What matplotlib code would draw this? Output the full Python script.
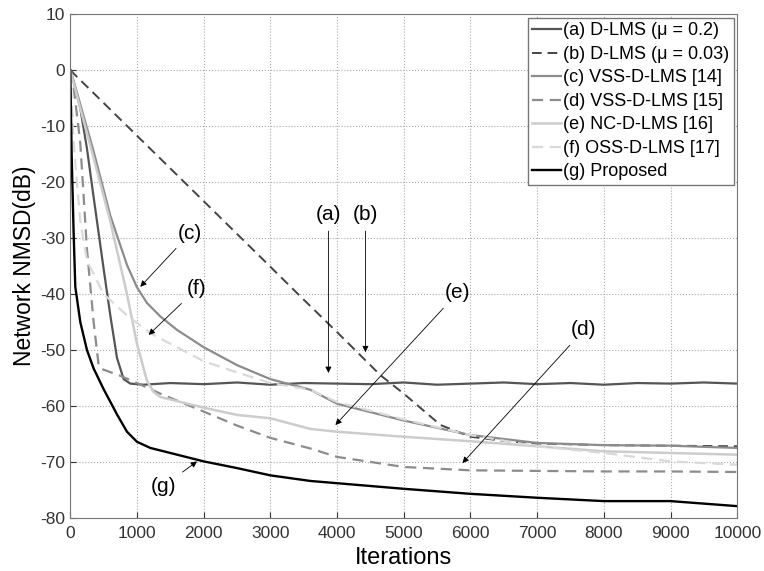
import matplotlib
matplotlib.use("Agg")
import matplotlib.pyplot as plt
import numpy as np

plt.rcParams['font.family'] = ['Liberation Sans', 'DejaVu Sans']
plt.rcParams['axes.unicode_minus'] = False

# values (iterations, dB)
x_a = [0, 50, 150, 250, 350, 500, 600, 700, 800, 900, 1100, 1500, 2000, 2500, 3000, 3500, 4000,
       4500, 5000, 5500, 6000, 6500, 7000, 7500, 8000, 8500, 9000, 9500, 10000]
y_a = [0, -2, -6.8, -14, -22.7, -35.5, -43.8, -51.4, -55.2, -56.0, -56.2, -55.9, -56.1, -55.8,
       -56.2, -55.9, -56.0, -56.1, -55.8, -56.2, -56.0, -55.8, -56.1, -55.9, -56.2, -55.9, -56.0, -55.8, -56.0]

x_b = [0, 1000, 2000, 2700, 3500, 4000, 4650, 5000, 5550, 6000, 6550, 7000, 8000, 9000, 10000]
y_b = [0, -11.7, -23.4, -31.6, -41, -46.8, -54.5, -57.8, -63.4, -65.5, -66.3, -66.7, -67.0, -67.1, -67.2]

x_c = [0, 100, 350, 600, 850, 1000, 1150, 1350, 1600, 2000, 2500, 3000, 3600, 4000, 5000, 6000,
       7000, 8000, 9000, 10000]
y_c = [0, -4, -14.5, -26, -34.8, -38.8, -41.6, -44.0, -46.4, -49.5, -52.7, -55.2, -57.1, -59.6, -62.6,
       -65.2, -66.6, -67.0, -67.1, -67.5]

x_d = [0, 50, 150, 250, 350, 425, 450, 750, 1000, 1350, 2000, 2500, 3000, 3600, 4000, 5000, 6000,
       7000, 8000, 9000, 10000]
y_d = [0, -3, -13, -32, -45, -52.7, -53.3, -54.6, -55.9, -57.8, -61, -63.5, -65.7, -67.6, -69.1,
       -70.9, -71.5, -71.6, -71.7, -71.7, -71.8]

x_e = [0, 150, 350, 600, 850, 1000, 1150, 1250, 1350, 2000, 2500, 3000, 3600, 4000, 5000, 6000,
       7000, 8000, 9000, 10000]
y_e = [0, -6.8, -15.7, -27, -40, -48.9, -55.5, -57.5, -58.4, -60.3, -61.6, -62.2, -64.1, -64.6,
       -65.5, -66.3, -67.2, -68.1, -68.4, -68.7]

x_f = [0, 50, 150, 250, 500, 850, 1200, 2000, 2500, 3000, 3600, 4000, 5000, 6000, 7000, 8000,
       9000, 10000]
y_f = [0, -13, -27, -34, -40, -43.8, -47, -52, -54, -55.9, -57.1, -59.3, -62.4, -65.2, -67.2, -68.4,
       -69.9, -70.5]

x_g = [0, 20, 50, 75, 150, 250, 350, 500, 700, 850, 1000, 1200, 1500, 2000, 2500, 3000, 3600, 4000,
       5000, 6000, 7000, 8000, 9000, 10000]
y_g = [0, -15, -29, -38.7, -45, -50, -53.3, -57, -61.5, -64.6, -66.4, -67.5, -68.4, -69.9, -71.1,
       -72.4, -73.4, -73.8, -74.8, -75.7, -76.4, -77.0, -77.0, -77.9]

labels = ['(a) D-LMS (μ = 0.2)', '(b) D-LMS (μ = 0.03)', '(c) VSS-D-LMS [14]', '(d) VSS-D-LMS [15]',
          '(e) NC-D-LMS [16]', '(f) OSS-D-LMS [17]', '(g) Proposed']

fig = plt.figure(figsize=(7.64, 5.71), dpi=100)
ax = fig.add_axes([0.092, 0.093, 0.873, 0.882])

ax.plot(x_a, y_a, color='#555555', lw=1.6, label=labels[0])
ax.plot(x_b, y_b, color='#444444', lw=1.4, ls=(0, (5, 3)), label=labels[1])
ax.plot(x_c, y_c, color='#8c8c8c', lw=1.6, label=labels[2])
ax.plot(x_d, y_d, color='#8c8c8c', lw=1.6, ls=(0, (5, 3)), label=labels[3])
ax.plot(x_e, y_e, color='#cccccc', lw=1.8, label=labels[4])
ax.plot(x_f, y_f, color='#d9d9d9', lw=1.6, ls=(0, (5, 3)), label=labels[5])
ax.plot(x_g, y_g, color='black', lw=1.7, label=labels[6])

ax.set_xlim(0, 10000)
ax.set_ylim(-80, 10)
ax.set_xticks(np.arange(0, 10001, 1000))
ax.set_yticks(np.arange(-80, 11, 10))
ax.grid(True, ls=':', color='#aaaaaa', lw=0.8)
ax.tick_params(direction='in', labelsize=12.5, colors='#333333', length=4)
ax.tick_params(axis='x', pad=6)
for s in ax.spines.values():
    s.set_color('#777777')

ax.set_xlabel('Iterations', fontsize=17, labelpad=4)
ax.set_ylabel('Network NMSD(dB)', fontsize=16.5, labelpad=3)

leg = ax.legend(loc='upper right', fontsize=13, fancybox=False, edgecolor='#777777',
                framealpha=1, handlelength=1.6, handletextpad=0.1, labelspacing=0.36,
                borderpad=0.25, borderaxespad=0.2)
leg.get_frame().set_linewidth(1.0)

# labels with arrows
arrow = dict(arrowstyle='-|>', color='black', lw=0.6, mutation_scale=9, shrinkA=3, shrinkB=0)
ax.annotate('(a)', xy=(3870, -54.1), xytext=(3870, -25.8), ha='center', va='center', fontsize=15, arrowprops=arrow)
ax.annotate('(b)', xy=(4425, -50.4), xytext=(4425, -25.8), ha='center', va='center', fontsize=15, arrowprops=arrow)
ax.annotate('(c)', xy=(1050, -38.7), xytext=(1800, -29.1), ha='center', va='center', fontsize=15, arrowprops=arrow)
ax.annotate('(f)', xy=(1175, -47.3), xytext=(1900, -39.0), ha='center', va='center', fontsize=15, arrowprops=arrow)
ax.annotate('(e)', xy=(3975, -63.4), xytext=(5805, -39.8), ha='center', va='center', fontsize=15, arrowprops=arrow)
ax.annotate('(d)', xy=(5880, -70.2), xytext=(7700, -46.4), ha='center', va='center', fontsize=15, arrowprops=arrow)
ax.annotate('(g)', xy=(1900, -69.9), xytext=(1400, -74.3), ha='center', va='center', fontsize=15, arrowprops=arrow)

fig.savefig('out.png', dpi=100)
